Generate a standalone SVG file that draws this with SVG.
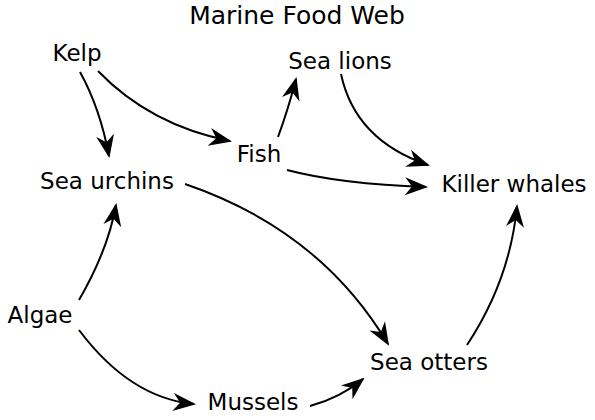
<svg xmlns="http://www.w3.org/2000/svg" width="595" height="420" viewBox="0 0 595 420">
<style>
text{font-family:"DejaVu Sans",sans-serif;font-size:23px;fill:#000;text-anchor:middle}
#title text{font-size:25px}
.e path{fill:none;stroke:#000;stroke-width:2;marker-end:url(#ah)}
</style>
<defs>
<marker id="ah" markerUnits="userSpaceOnUse" markerWidth="26" markerHeight="20" viewBox="0 0 26 20" refX="22" refY="10" orient="auto">
<path d="M24,10 L1,1 L8,10 L1,19 Z" fill="#000"/>
</marker>
</defs>
<rect width="595" height="420" fill="#fff"/>
<g id="title"><text x="297" y="24">Marine Food Web</text></g>
<g class="e" id="connectors">
<path d="M80,72 Q100,108 109,156"/>
<path d="M98,71 Q150,125 230,141"/>
<path d="M278,137 Q288,110 296,79"/>
<path d="M341,74 Q355,140 428,165"/>
<path d="M287,170 Q340,184 426,187"/>
<path d="M185,184 Q320,230 388,344"/>
<path d="M79,300 Q108,250 116,205"/>
<path d="M79,330 Q130,398 194,404"/>
<path d="M310,406 Q340,398 363,379"/>
<path d="M467,345 Q510,280 517,206"/>
</g>
<g id="kelp"><text x="77" y="61">Kelp</text></g>
<g id="sealions"><text x="340" y="69">Sea lions</text></g>
<g id="fish"><text x="259" y="162">Fish</text></g>
<g id="seaurchins"><text x="107" y="189">Sea urchins</text></g>
<g id="killerwhales"><text x="514" y="192">Killer whales</text></g>
<g id="algae"><text x="40" y="323">Algae</text></g>
<g id="seaotters"><text x="429" y="370">Sea otters</text></g>
<g id="mussels"><text x="253" y="410">Mussels</text></g>
</svg>
